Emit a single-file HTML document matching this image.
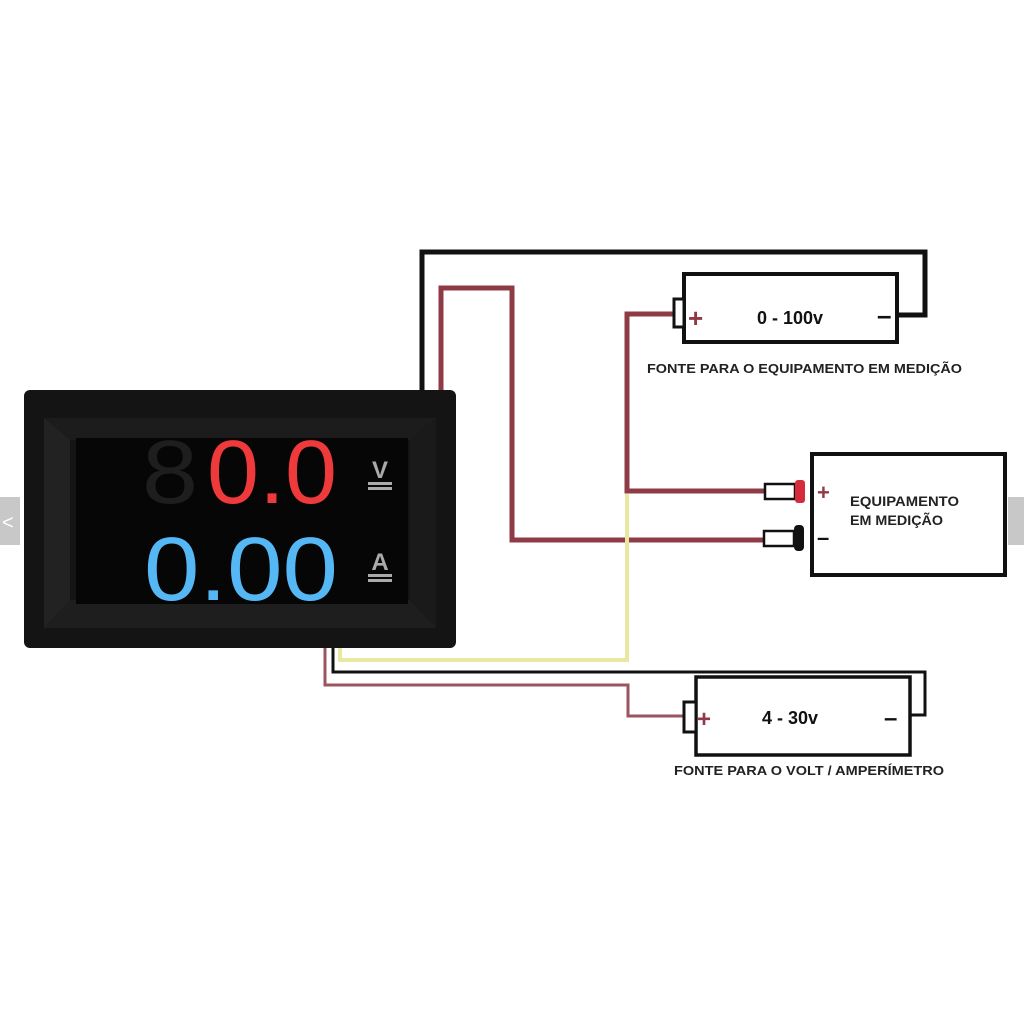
<!DOCTYPE html>
<html><head><meta charset="utf-8"><style>
html,body{margin:0;padding:0;background:#fff;}
svg{display:block}
</style></head><body>
<svg width="1024" height="1024" viewBox="0 0 1024 1024" xmlns="http://www.w3.org/2000/svg" font-family="Liberation Sans, sans-serif">
<rect width="1024" height="1024" fill="#fff"/>
<rect x="0" y="497" width="20" height="48" fill="#c8c8c8"/>
<text x="2" y="529" font-size="20" fill="#fff">&lt;</text>
<rect x="1008" y="497" width="16" height="48" fill="#c8c8c8"/>

<g fill="none" stroke-linejoin="miter">
<polyline points="422,392 422,252 925,252 925,315 897,315" stroke="#111" stroke-width="5"/>
<polyline points="441,392 441,288 512,288 512,540 766,540" stroke="#8e3b45" stroke-width="5"/>
<polyline points="673,314 627,314 627,491 766,491" stroke="#8e3b45" stroke-width="5"/>
<polyline points="627,494 627,660 340,660 340,648" stroke="#e8e8a0" stroke-width="4"/>
<polyline points="333,648 333,672 925,672 925,715 910,715" stroke="#111" stroke-width="3"/>
<polyline points="325,648 325,685 628,685 628,716 683,716" stroke="#9a5560" stroke-width="3"/>
</g>

<rect x="684" y="274" width="213" height="68" fill="#fff" stroke="#111" stroke-width="4"/>
<rect x="674" y="299" width="10" height="28" fill="#fff" stroke="#111" stroke-width="3"/>
<text x="688" y="327" font-size="26" font-weight="bold" fill="#8e3b45">+</text>
<text x="877" y="324" font-size="26" font-weight="bold" fill="#111">–</text>
<text x="790" y="324" font-size="18" font-weight="bold" text-anchor="middle" fill="#111">0 - 100v</text>
<text x="647" y="373" font-size="13" font-weight="bold" textLength="315" lengthAdjust="spacingAndGlyphs" fill="#222">FONTE PARA O EQUIPAMENTO EM MEDIÇÃO</text>

<rect x="812" y="454" width="193" height="121" fill="#fff" stroke="#111" stroke-width="4"/>
<rect x="765" y="484" width="30" height="15" fill="#fff" stroke="#111" stroke-width="2.5"/>
<rect x="795" y="480" width="10" height="23" rx="3" fill="#d52b3a"/>
<rect x="764" y="531" width="30" height="15" fill="#fff" stroke="#111" stroke-width="2.5"/>
<rect x="794" y="525" width="10" height="26" rx="4" fill="#111"/>
<text x="817" y="500" font-size="22" font-weight="bold" fill="#8e3b45">+</text>
<text x="817" y="545" font-size="22" font-weight="bold" fill="#111">–</text>
<text x="850" y="506" font-size="13.5" font-weight="bold" textLength="109" lengthAdjust="spacingAndGlyphs" fill="#222">EQUIPAMENTO</text>
<text x="850" y="525" font-size="13.5" font-weight="bold" textLength="93" lengthAdjust="spacingAndGlyphs" fill="#222">EM MEDIÇÃO</text>

<rect x="696" y="677" width="214" height="78" fill="#fff" stroke="#111" stroke-width="3.5"/>
<rect x="684" y="702" width="12" height="30" fill="#fff" stroke="#111" stroke-width="3"/>
<text x="697" y="727" font-size="24" font-weight="bold" fill="#8e3b45">+</text>
<text x="884" y="726" font-size="24" font-weight="bold" fill="#111">–</text>
<text x="790" y="724" font-size="18" font-weight="bold" text-anchor="middle" fill="#111">4 - 30v</text>
<text x="674" y="775" font-size="13" font-weight="bold" textLength="270" lengthAdjust="spacingAndGlyphs" fill="#222">FONTE PARA O VOLT / AMPERÍMETRO</text>

<rect x="24" y="390" width="432" height="258" rx="6" fill="#141414"/>
<polygon points="44,418 436,418 410,440 70,440" fill="#1c1c1c"/>
<polygon points="44,418 70,440 70,600 44,628" fill="#222"/>
<polygon points="436,418 410,440 410,600 436,628" fill="#1a1a1a"/>
<polygon points="44,628 70,600 410,600 436,628" fill="#1e1e1e"/>
<rect x="76" y="438" width="332" height="166" fill="#060606"/>
<g font-family="Liberation Sans, sans-serif" font-size="90">
<text x="142" y="503" fill="#1e1e1e" textLength="56" lengthAdjust="spacingAndGlyphs">8</text>
<text x="207" y="503" fill="#ef3a3c" textLength="130" lengthAdjust="spacingAndGlyphs">0.0</text>
<text x="144" y="600" fill="#55b8f5" textLength="194" lengthAdjust="spacingAndGlyphs">0.00</text>
</g>
<text x="380" y="478" font-size="24" font-weight="bold" text-anchor="middle" fill="#aaa">V</text>
<rect x="368" y="482" width="24" height="3" fill="#aaa"/>
<rect x="368" y="487" width="24" height="3" fill="#aaa"/>
<text x="380" y="570" font-size="24" font-weight="bold" text-anchor="middle" fill="#aaa">A</text>
<rect x="368" y="574" width="24" height="3" fill="#aaa"/>
<rect x="368" y="579" width="24" height="3" fill="#aaa"/>
</svg>
</body></html>
